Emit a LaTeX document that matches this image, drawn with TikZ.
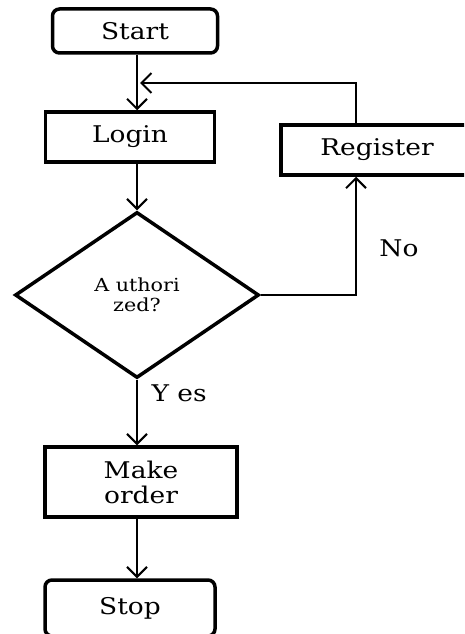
\documentclass[tikz,border=0pt]{standalone}
\usepackage{fontspec}
\setmainfont[FakeStretch=1.15]{DejaVu Serif}
\usetikzlibrary{shapes.geometric,arrows.meta}

\begin{document}
\begin{tikzpicture}[x=1pt, y=-1pt,
    term/.style={draw, rounded corners=7pt, line width=3.5pt, minimum width=165pt, minimum height=44pt, font=\fontsize{23}{25}\selectfont},
    proc/.style={draw, line width=3.5pt, minimum height=50pt, align=center, font=\fontsize{23}{25}\selectfont},
    dec/.style={draw, diamond, line width=3.5pt, inner sep=0pt, minimum width=244pt, minimum height=166pt, align=center, font=\fontsize{18}{20}\selectfont},
    lbl/.style={font=\fontsize{23}{25}\selectfont},
    arr/.style={draw, line width=2pt, -{Straight Barb[length=10pt,width=20pt,line width=2pt]}}]
    \useasboundingbox (0,0) rectangle (464,634);
    \clip (0,0) rectangle (464,634);

    \node[term] (start) at (135,31) {Start};
    \node[proc, minimum width=169pt] (login) at (130,137) {Login};
    \node[proc, minimum width=192pt] (register) at (377,150) {Register};
    \node[dec] (auth) at (137,295) {A uthori\\zed?};
    \node[proc, minimum width=192pt, minimum height=70pt] (order) at (141,482) {Make\\order};
    \node[term, minimum width=170pt, minimum height=56pt] (stop) at (130,608) {Stop};

    \node[lbl, anchor=west] (yes) at (148,393) {Y es};
    \node[lbl] (no) at (399,248) {No};

    \coordinate (join) at (140,83);

    \draw[arr] (start.south -| auth.north) -- (login.north -| auth.north);
    \draw[arr] (login.south -| auth.north) -- (auth.north);
    \draw[arr] (auth.south) -- (auth.south |- order.north);
    \draw[arr] (order.south -| auth.south) -- (stop.north -| auth.south);
    \draw[arr] (auth.east) -| ([xshift=-21pt]register.south);
    \draw[arr] ([xshift=-21pt]register.north) |- (join);
  \end{tikzpicture}
\end{document}
